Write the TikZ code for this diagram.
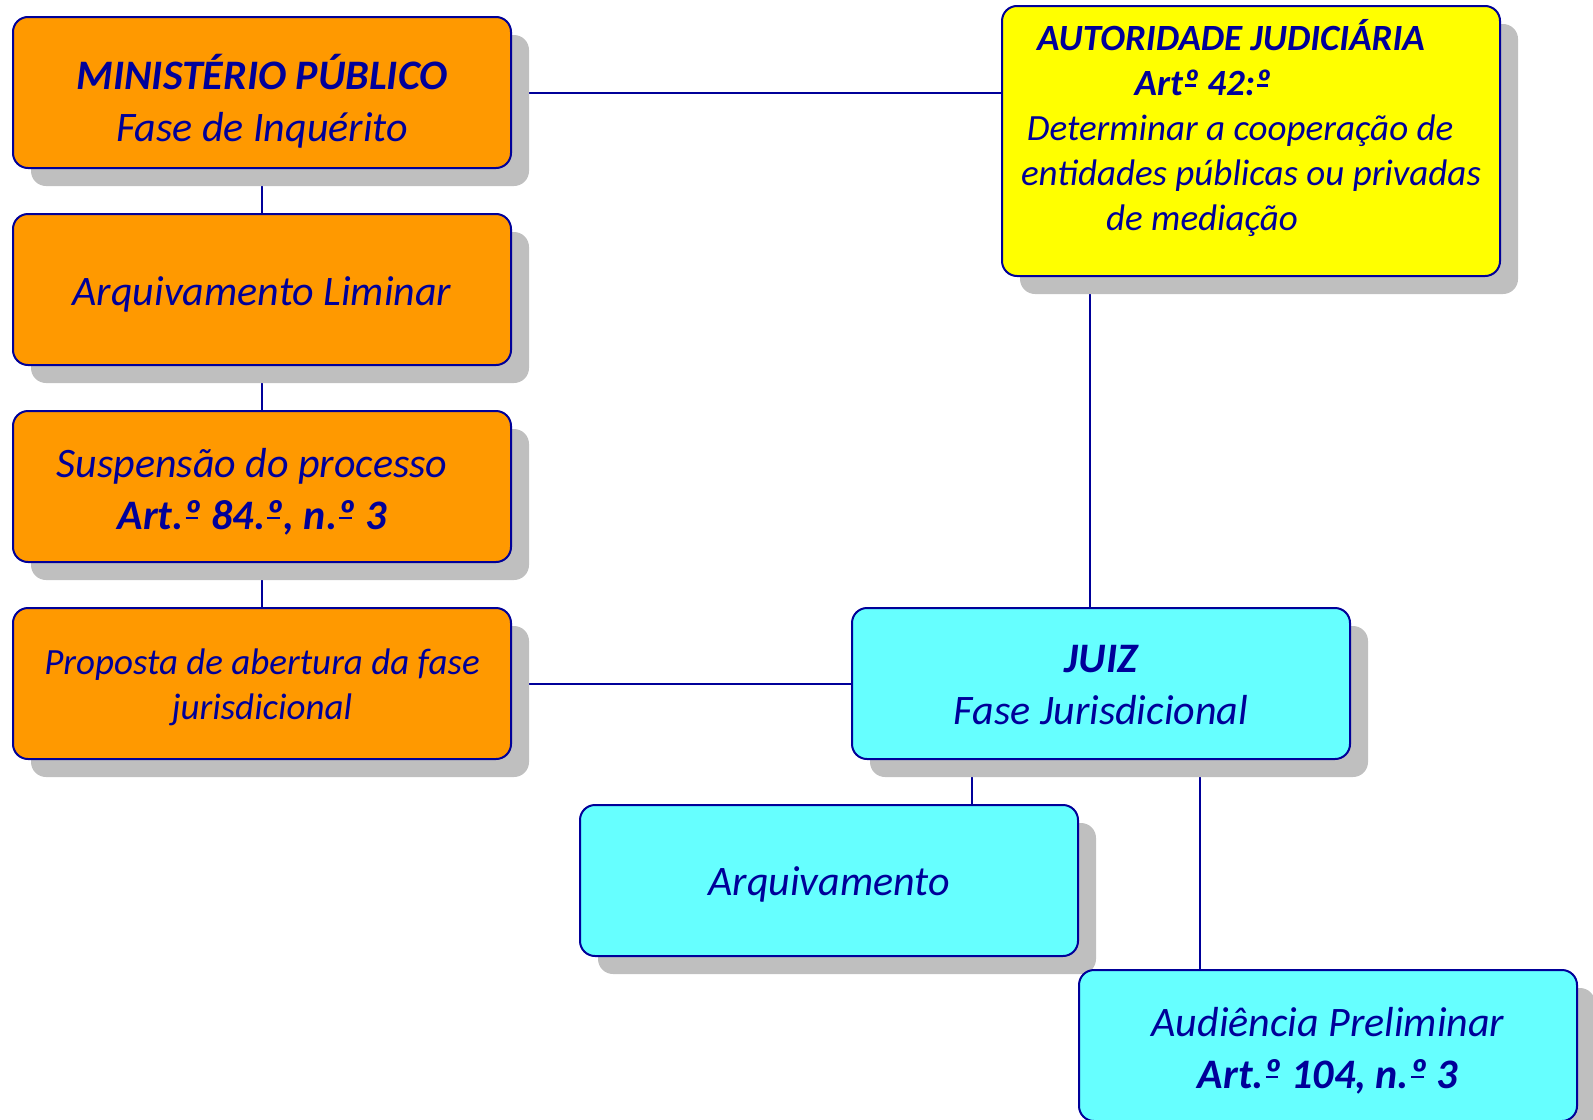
\documentclass[tikz,border=0pt]{standalone}
\usepackage{fontspec}
\setmainfont{Carlito}
\usetikzlibrary{positioning,shadows,backgrounds}
\definecolor{navy}{RGB}{0,0,153}
\definecolor{orangebox}{RGB}{255,153,0}
\definecolor{yellowbox}{RGB}{255,255,0}
\definecolor{cyanbox}{RGB}{102,255,255}
\definecolor{shadowgray}{RGB}{191,191,191}
% underlined ordinal, as in the original font
\newcommand{\ordu}{\ooalign{º\cr\hidewidth\kern-0.04em\rule[0.24em]{0.3em}{0.06em}\hidewidth\cr}}
\newcommand{\topstrut}[1]{\rule{0pt}{#1}}
\newcommand{\botstrut}[1]{\rule[-#1]{0pt}{#1}}

\begin{document}
\begin{tikzpicture}[x=0.5pt, y=-0.5pt, node distance=23pt, every node/.style={font=\fontsize{21}{26}\selectfont\itshape, text=navy}]
\tikzstyle{box}=[draw=navy, line width=1pt, rounded corners=7.5pt, align=center, minimum width=249pt, minimum height=75.5pt, inner sep=0pt, outer sep=0pt, drop shadow={shadow xshift=9pt, shadow yshift=-9pt, fill=shadowgray, opacity=1}]
\tikzstyle{mpbox}=[box, fill=orangebox]
\tikzstyle{jbox}=[box, fill=cyanbox]
\tikzstyle{small}=[font=\fontsize{18.5}{22.5}\selectfont\itshape]
\tikzstyle{link}=[draw=navy, line width=1pt]
\useasboundingbox (0,0) rectangle (1593,1119);
\node[mpbox] (mp) at (262,92.5) {\topstrut{26pt}\textbf{MINISTÉRIO PÚBLICO}\\Fase de Inquérito};
\node[mpbox, below=of mp] (liminar) {\topstrut{19.5pt}Arquivamento Liminar};
\node[mpbox, below=of liminar] (susp) {\topstrut{19.5pt}Suspensão do processo\hbox to 10pt{}\\\textbf{Art.\ordu{} 84.\ordu, n.\ordu{} 3}\hbox to 10pt{}};
\node[mpbox, small, below=of susp] (proposta) {\topstrut{17pt}Proposta de abertura da fase\\jurisdicional};
\node[box, small, fill=yellowbox, minimum height=135pt] (aut) at (1251,141) {\textbf{AUTORIDADE JUDICIÁRIA}\hbox to 20pt{}\\\textbf{Art\ordu{} 42:\ordu}\hbox to 48pt{}\\Determinar a cooperação de\hbox to 11pt{}\\entidades públicas ou privadas\\de mediação\hbox to 49pt{}\botstrut{16pt}};
\node[jbox, right=170.5pt of proposta] (juiz) {\topstrut{15.5pt}\textbf{JUIZ}\\Fase Jurisdicional};
\node[jbox, below=of juiz, xshift=-136pt] (arq) {\topstrut{18.5pt}Arquivamento};
\node[jbox] (aud) at (1328,1045.5) {\topstrut{19.75pt}Audiência Preliminar\\\textbf{Art.\ordu{} 104, n.\ordu{} 3}};
\begin{scope}[on background layer]
\draw[link] (mp) -- (liminar);
\draw[link] (liminar) -- (susp);
\draw[link] (susp) -- (proposta);
\draw[link] (mp.east) -- (mp.east -| aut.west);
\draw[link] (proposta) -- (juiz);
\draw[link] ([xshift=-5.5pt]juiz.north) -- ([xshift=-5.5pt]juiz.north |- aut.south);
\draw[link] ([xshift=-64.5pt]juiz.south) -- ([xshift=-64.5pt]juiz.south |- arq.north);
\draw[link] ([xshift=49.5pt]juiz.south) -- ([xshift=49.5pt]juiz.south |- aud.north);
\end{scope}
\end{tikzpicture}
\end{document}
